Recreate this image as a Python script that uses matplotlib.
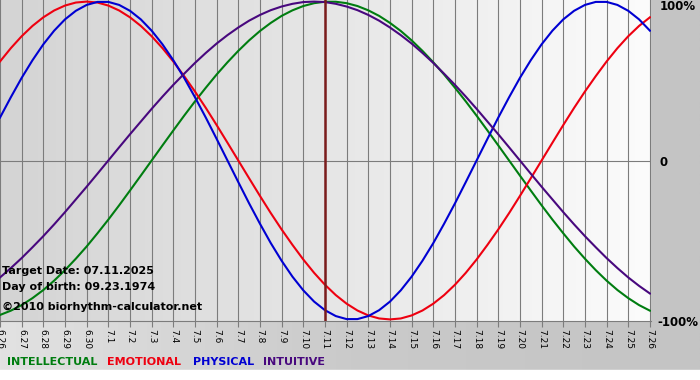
import matplotlib
matplotlib.use("Agg")
import numpy as np
import matplotlib.pyplot as plt
from matplotlib.colors import LinearSegmentedColormap

# days shown, 06.26 .. 07.26
day_labels = ["6.26", "6.27", "6.28", "6.29", "6.30"] + ["7.%d" % d for d in range(1, 27)]
target_day = "7.11"

# cycle values (fraction of 100%) read every half day, 6.26 .. 7.26
intellectual = [-0.972, -0.945, -0.910, -0.866, -0.815, -0.756, -0.690, -0.618, -0.541, -0.458,
                -0.372, -0.282, -0.189, -0.095, 0.0, 0.095, 0.189, 0.282, 0.372, 0.458,
                0.541, 0.618, 0.690, 0.756, 0.815, 0.866, 0.910, 0.945, 0.972, 0.990,
                0.999, 0.999, 0.990, 0.972, 0.945, 0.910, 0.866, 0.815, 0.756, 0.690,
                0.618, 0.541, 0.458, 0.372, 0.282, 0.189, 0.095, 0.0, -0.095, -0.189,
                -0.282, -0.372, -0.458, -0.541, -0.618, -0.690, -0.756, -0.815, -0.866, -0.910,
                -0.945]
emotional = [0.623, 0.707, 0.782, 0.847, 0.901, 0.944, 0.975, 0.994, 1.0, 0.994,
             0.975, 0.944, 0.901, 0.847, 0.782, 0.707, 0.623, 0.531, 0.434, 0.331,
             0.223, 0.112, 0.0, -0.112, -0.223, -0.331, -0.434, -0.531, -0.623, -0.707,
             -0.782, -0.847, -0.901, -0.944, -0.975, -0.994, -1.0, -0.994, -0.975, -0.944,
             -0.901, -0.847, -0.782, -0.707, -0.623, -0.531, -0.434, -0.331, -0.223, -0.112,
             0.0, 0.112, 0.223, 0.331, 0.434, 0.531, 0.623, 0.707, 0.782, 0.847,
             0.901]
physical = [0.270, 0.398, 0.520, 0.631, 0.731, 0.817, 0.888, 0.942, 0.979, 0.998,
            0.998, 0.979, 0.942, 0.888, 0.817, 0.731, 0.631, 0.520, 0.398, 0.270,
            0.136, 0.0, -0.136, -0.270, -0.398, -0.520, -0.631, -0.731, -0.817, -0.888,
            -0.942, -0.979, -0.998, -0.998, -0.979, -0.942, -0.888, -0.817, -0.731, -0.631,
            -0.520, -0.398, -0.270, -0.136, 0.0, 0.136, 0.270, 0.398, 0.520, 0.631,
            0.731, 0.817, 0.888, 0.942, 0.979, 0.998, 0.998, 0.979, 0.942, 0.888,
            0.817]
intuitive = [-0.736, -0.677, -0.614, -0.546, -0.476, -0.402, -0.325, -0.245, -0.165, -0.083,
             0.0, 0.083, 0.165, 0.245, 0.325, 0.402, 0.476, 0.546, 0.614, 0.677,
             0.736, 0.789, 0.837, 0.880, 0.916, 0.946, 0.969, 0.986, 0.997, 1.0,
             0.997, 0.986, 0.969, 0.946, 0.916, 0.880, 0.837, 0.789, 0.736, 0.677,
             0.614, 0.546, 0.476, 0.402, 0.325, 0.245, 0.165, 0.083, 0.0, -0.083,
             -0.165, -0.245, -0.325, -0.402, -0.476, -0.546, -0.614, -0.677, -0.736, -0.789,
             -0.837]

series = [("INTELLECTUAL", intellectual, "#007d10"),
          ("EMOTIONAL", emotional, "#ee0010"),
          ("PHYSICAL", physical, "#0000d2"),
          ("INTUITIVE", intuitive, "#48087e")]

W, H = 700, 380
fig = plt.figure(figsize=(W / 100, H / 100), dpi=100)

# outer background: grey gradient, white strip at the bottom
bg = fig.add_axes([0, 0, 1, 1], zorder=-10)
bg.axis("off")
outer = LinearSegmentedColormap.from_list("outer", ["#e2e2e2", "#cacaca", "#c4c4c4"])
bg.imshow(np.linspace(0, 1, 256)[None, :], extent=(0, W, H, 0), aspect="auto", cmap=outer)
bg.fill_between([0, W], 370, H, color="white")
bg.set_xlim(0, W)
bg.set_ylim(H, 0)

ax = fig.add_axes([0, (H - 321) / H, 651 / W, 321 / H])
x = np.arange(len(day_labels))
inner = LinearSegmentedColormap.from_list("inner", ["#d4d4d4", "#e6e6e6", "#fcfcfc"])
ax.imshow(np.linspace(0, 1, 256)[None, :], extent=(0, 30.05, -1.01, 1.01),
          aspect="auto", cmap=inner, zorder=0)
ax.set_xlim(0, 30.05)
ax.set_ylim(-1.01, 1.01)

for xi in x:
    ax.axvline(xi, color="#7c7c7c", linewidth=0.8, zorder=1)
ax.axhline(0, color="#7c7c7c", linewidth=0.8, zorder=1)

for name, vals, col in series:
    xs = np.arange(len(vals)) * 0.5
    ax.plot(xs, vals, color=col, linewidth=1.5, zorder=3)

ti = day_labels.index(target_day)
ax.axvline(ti, color="#7a1c1c", linewidth=1.8, zorder=4)

for s in ["top", "right", "left"]:
    ax.spines[s].set_visible(False)
ax.spines["bottom"].set_color("#7c7c7c")
ax.set_xticks(x)
ax.set_xticklabels(day_labels, rotation=270, ha="center", va="top", fontsize=6.5)
ax.tick_params(axis="x", length=4, width=0.8, color="#7c7c7c", pad=1.5)
ax.set_yticks([])

# right-side scale
for label, xpx, ypx in [("100%", 660, 7), ("0", 660, 162), ("-100%", 657, 322)]:
    fig.text(xpx / W, 1 - ypx / H, label, fontsize=8.5, fontweight="bold",
             va="center", ha="left")

# info texts
for txt, ypx in [("Target Date: 07.11.2025", 271), ("Day of birth: 09.23.1974", 287),
                 ("\u00a92010 biorhythm-calculator.net", 307)]:
    fig.text(2 / W, 1 - ypx / H, txt, fontsize=8, fontweight="bold", va="center", ha="left")

# legend
for (name, vals, col), xpx in zip(series, [7, 107, 193, 263]):
    fig.text(xpx / W, 1 - 362 / H, name, color=col, fontsize=8, fontweight="bold",
             va="center", ha="left")

fig.savefig("out.png", dpi=100)
